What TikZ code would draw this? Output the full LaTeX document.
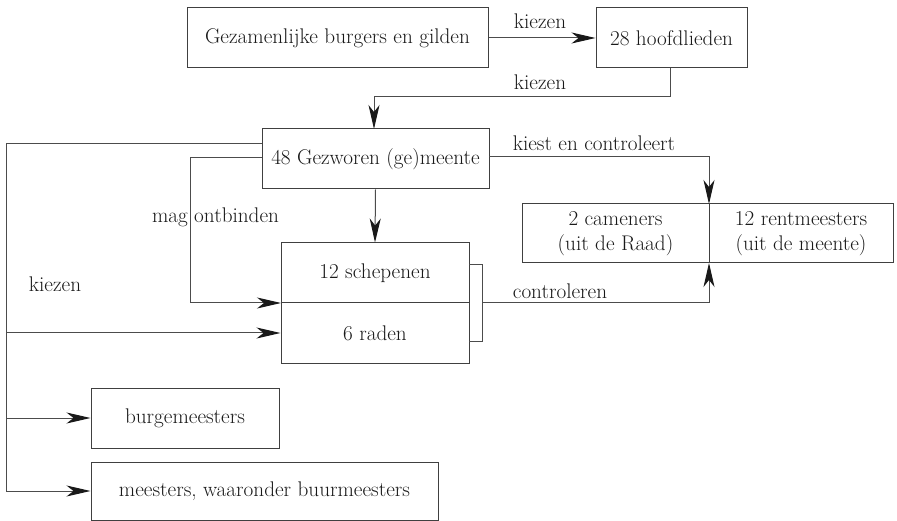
\documentclass[tikz,border=0pt]{standalone}
\usetikzlibrary{arrows.meta}
\begin{document}
\begin{tikzpicture}[x=1pt,y=-1pt,
  box/.style={draw=black!75,line width=1pt,inner sep=0pt,minimum width=#1,minimum height=60pt,anchor=center,font=\fontsize{21.2}{25}\selectfont,align=center,text=black!90},
  lbl/.style={font=\fontsize{21.2}{25}\selectfont,inner sep=0pt,anchor=center,text=black!90},
  conn/.style={draw=black!70,line width=1pt},
  arr/.style={conn,-{Stealth[length=24pt,width=11pt,inset=7pt,color=black!90]}},
]
\useasboundingbox (0,0) rectangle (897,521);
\node[box=301pt] (A) at (337.5,38) {Gezamenlijke burgers en gilden};
\node[box=151pt] (B) at (671.5,38) {28 hoofdlieden};
\node[box=227pt] (C) at (375.5,159) {48 Gezworen (ge)meente};
\node[box=187pt,minimum height=59pt] (D1) at (615.5,233.5) {2 cameners\\(uit de Raad)};
\node[box=184pt,minimum height=59pt] (D2) at (801,233.5) {12 rentmeesters\\(uit de meente)};
\node[box=188pt] (E1) at (375,273) {12 schepenen};
\node[box=188pt] (E2) at (375,333) {6 raden};
\node[box=188pt] (F) at (185,418) {burgemeesters};
\node[box=347pt,minimum height=58pt] (G) at (264.5,491) {meesters, waaronder buurmeesters};

% bracket right of schepenen/raden
\coordinate (br1) at (469,265);
\coordinate (br2) at (482,265);
\coordinate (br3) at (482,342);
\coordinate (br4) at (469,342);
\draw[conn] (br1) -- (br2) -- (br3) -- (br4);
\coordinate (brm) at (482,303);

\coordinate (Dj) at (709,263);
\coordinate (Dt) at (709,204);

% connectors
\draw[arr] (A.east) -- (B.west);
\node[lbl] (l1) at (540,21) {kiezen};

\coordinate (Bb) at (670,68);
\coordinate (Ct) at (374,129);
\draw[arr] (Bb) -- (670,97) -- (374,97) -- (Ct);
\node[lbl] (l2) at (540,82) {kiezen};

\coordinate (Cr) at (489,157);
\draw[arr] (Cr) -- (709,157) -- (Dt);
\node[lbl] (l3) at (594,143) {kiest en controleert};

\draw[arr] (C.south) -- (E1.north);

\coordinate (Cl2) at (262,158);
\coordinate (Ew) at (281,303);
\draw[arr] (Cl2) -- (190,158) -- (190,303) -- (Ew);
\node[lbl] (l4) at (215.5,217) {mag ontbinden};

\coordinate (Cl1) at (262,144);
\coordinate (k1) at (6,333);
\coordinate (k2) at (6,418);
\draw[conn] (Cl1) -- (6,144) -- (6,491);
\draw[arr] (6,491) -- (G.west);
\draw[arr] (k2) -- (F.west);
\draw[arr] (k1) -- (E2.west);
\node[lbl] (l5) at (55,284) {kiezen};

\draw[arr] (brm) -- (709,303) -- (Dj);
\node[lbl] (l6) at (560,291) {controleren};
\end{tikzpicture}
\end{document}
